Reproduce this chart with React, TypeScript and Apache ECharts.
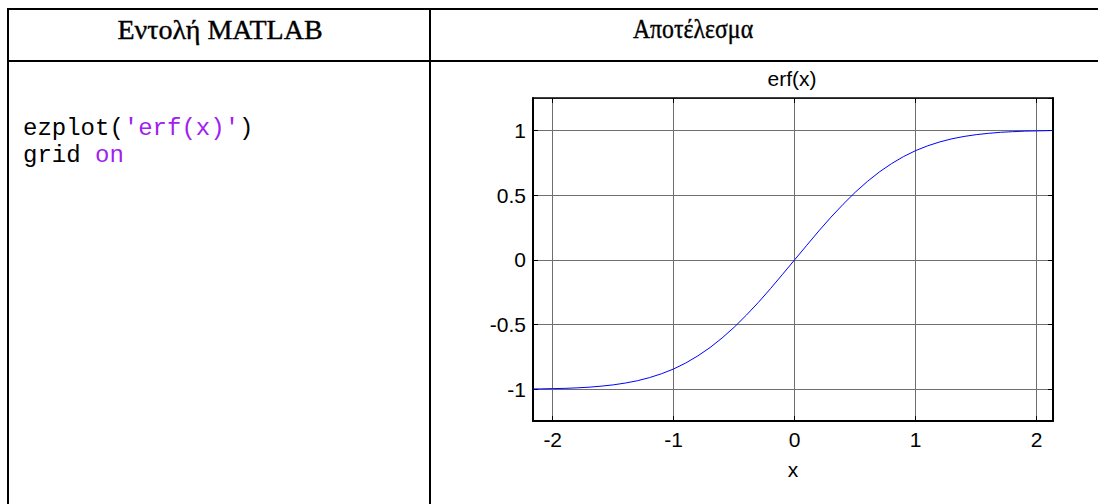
import React, { useEffect, useRef } from "react";
import * as echarts from "echarts";

const headerLeft = "Εντολή MATLAB";
const headerRight = "Αποτέλεσμα";
const chartTitle = "erf(x)";
const xAxisName = "x";
const codeLine1 = ["ezplot(", "'erf(x)'", ")"];
const codeLine2 = ["grid ", "on"];

const xValues = [
  -2.16, -2.1, -2.0, -1.9, -1.8, -1.7, -1.6, -1.5, -1.4, -1.3, -1.2, -1.1, -1.0,
  -0.9, -0.8, -0.7, -0.6, -0.5, -0.4, -0.3, -0.2, -0.1, 0, 0.1, 0.2, 0.3, 0.4,
  0.5, 0.6, 0.7, 0.8, 0.9, 1.0, 1.1, 1.2, 1.3, 1.4, 1.5, 1.6, 1.7, 1.8, 1.9, 2.0,
  2.1, 2.13,
];
const erfValues = [
  -0.998, -0.997, -0.995, -0.993, -0.989, -0.984, -0.976, -0.966, -0.952, -0.934,
  -0.91, -0.88, -0.843, -0.797, -0.742, -0.678, -0.604, -0.521, -0.428, -0.329,
  -0.223, -0.112, 0, 0.112, 0.223, 0.329, 0.428, 0.521, 0.604, 0.678, 0.742,
  0.797, 0.843, 0.88, 0.91, 0.934, 0.952, 0.966, 0.976, 0.984, 0.989, 0.993,
  0.995, 0.997, 0.998,
];

const X_MIN = -2.163;
const X_MAX = 2.135;
const Y_MIN = -1.245;
const Y_MAX = 1.249;

const SANS = "'Liberation Sans', Arial, sans-serif";
const SERIF = "'Liberation Serif', 'Times New Roman', serif";
const MONO = "'Liberation Mono', 'DejaVu Sans Mono', monospace";
const PURPLE = "#A020F0";

export default function App() {
  const ref = useRef<HTMLDivElement>(null);

  useEffect(() => {
    if (!ref.current) return;
    const chart = echarts.init(ref.current, undefined, { renderer: "svg" });

    const data = xValues.map((x, i) => [x, erfValues[i]]);
    const tableLine = (x1: number, y1: number, x2: number, y2: number) => ({
      type: "line",
      shape: { x1, y1, x2, y2 },
      style: { stroke: "#000", lineWidth: 2 },
      silent: true,
    });

    const labelStyle = { color: "#000", fontSize: 21, fontFamily: SANS };

    chart.setOption({
      animation: false,
      backgroundColor: "#fff",
      grid: { left: 533, top: 98, width: 520, height: 323, containLabel: false },
      xAxis: [
        {
          type: "value",
          min: X_MIN,
          max: X_MAX,
          position: "bottom",
          name: xAxisName,
          nameLocation: "middle",
          nameGap: 38,
          nameTextStyle: labelStyle,
          axisLine: { show: true, onZero: false, lineStyle: { color: "#000", width: 2 } },
          axisTick: { show: true, inside: true, length: 5, lineStyle: { color: "#000", width: 1 } },
          axisLabel: { ...labelStyle, margin: 8, showMinLabel: false, showMaxLabel: false },
          splitLine: { show: true, lineStyle: { color: "#6e6e6e", width: 1 } },
        },
        {
          type: "value",
          min: X_MIN,
          max: X_MAX,
          position: "top",
          axisLine: { show: true, onZero: false, lineStyle: { color: "#000", width: 1.5 } },
          axisTick: { show: true, inside: true, length: 5, lineStyle: { color: "#000", width: 1 } },
          axisLabel: { show: false },
          splitLine: { show: false },
        },
      ],
      yAxis: [
        {
          type: "value",
          min: Y_MIN,
          max: Y_MAX,
          position: "left",
          axisLine: { show: true, onZero: false, lineStyle: { color: "#000", width: 2 } },
          axisTick: { show: true, inside: true, length: 5, lineStyle: { color: "#000", width: 1 } },
          axisLabel: { ...labelStyle, margin: 7, showMinLabel: false, showMaxLabel: false },
          splitLine: { show: true, lineStyle: { color: "#6e6e6e", width: 1 } },
        },
        {
          type: "value",
          min: Y_MIN,
          max: Y_MAX,
          position: "right",
          axisLine: { show: true, onZero: false, lineStyle: { color: "#000", width: 2 } },
          axisTick: { show: true, inside: true, length: 5, lineStyle: { color: "#000", width: 1 } },
          axisLabel: { show: false },
          splitLine: { show: false },
        },
      ],
      series: [
        {
          type: "line",
          data,
          xAxisIndex: 0,
          yAxisIndex: 0,
          showSymbol: false,
          smooth: false,
          lineStyle: { color: "#0000ff", width: 1 },
          silent: true,
        },
      ],
      graphic: [
        tableLine(7, 9, 1098, 9),
        tableLine(7, 61, 1098, 61),
        tableLine(8, 8, 8, 504),
        tableLine(430, 8, 430, 504),
        {
          type: "text",
          x: 220,
          y: 29,
          style: {
            text: headerLeft,
            fill: "#000",
            fontSize: 28,
            fontFamily: SERIF,
            textAlign: "center",
            textVerticalAlign: "middle",
            stroke: "#000",
            lineWidth: 0.4,
          },
        },
        {
          type: "text",
          x: 693,
          y: 29,
          scaleX: 0.85,
          style: {
            text: headerRight,
            fill: "#000",
            fontSize: 28,
            fontFamily: SERIF,
            textAlign: "center",
            textVerticalAlign: "middle",
            stroke: "#000",
            lineWidth: 0.4,
          },
        },
        {
          type: "text",
          x: 23,
          y: 128,
          style: {
            text: `{n|${codeLine1[0]}}{s|${codeLine1[1]}}{n|${codeLine1[2]}}`,
            fontSize: 24,
            fontFamily: MONO,
            textAlign: "left",
            textVerticalAlign: "middle",
            rich: {
              n: { fill: "#000", fontSize: 24, fontFamily: MONO },
              s: { fill: PURPLE, fontSize: 24, fontFamily: MONO },
            },
          },
        },
        {
          type: "text",
          x: 23,
          y: 155.5,
          style: {
            text: `{n|${codeLine2[0]}}{s|${codeLine2[1]}}`,
            fontSize: 24,
            fontFamily: MONO,
            textAlign: "left",
            textVerticalAlign: "middle",
            rich: {
              n: { fill: "#000", fontSize: 24, fontFamily: MONO },
              s: { fill: PURPLE, fontSize: 24, fontFamily: MONO },
            },
          },
        },
        {
          type: "text",
          x: 792,
          y: 78,
          style: {
            text: chartTitle,
            fill: "#000",
            fontSize: 21,
            fontFamily: SANS,
            textAlign: "center",
            textVerticalAlign: "middle",
          },
        },
      ],
    });

    return () => chart.dispose();
  }, []);

  return (
    <div
      ref={ref}
      style={{ position: "fixed", left: 0, top: 0, width: 1098, height: 504, background: "#fff" }}
    />
  );
}
